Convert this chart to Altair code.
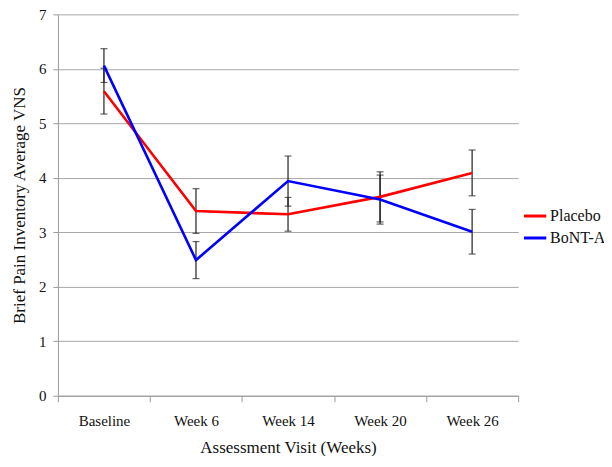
import altair as alt
import pandas as pd

visits = ["Baseline", "Week 6", "Week 14", "Week 20", "Week 26"]
placebo_mean = [5.59, 3.39, 3.33, 3.65, 4.09]
placebo_err = [0.42, 0.41, 0.31, 0.46, 0.42]
bont_mean = [6.06, 2.49, 3.94, 3.60, 3.01]
bont_err = [0.31, 0.34, 0.46, 0.45, 0.41]
groups = ["Placebo", "BoNT-A"]
colors = ["#FF0000", "#0000FF"]

rows = []
for g, means, errs in [("Placebo", placebo_mean, placebo_err), ("BoNT-A", bont_mean, bont_err)]:
    for i, (v, m, e) in enumerate(zip(visits, means, errs)):
        rows.append({"visit": v, "idx": i, "group": g, "mean": m, "lo": m - e, "hi": m + e})
df = pd.DataFrame(rows)

FONT = "Times New Roman, Liberation Serif, serif"

x_enc = alt.X(
    "visit:N",
    sort=visits,
    bandPosition=0.5,
    scale=alt.Scale(type="band", domain=visits, paddingInner=0, paddingOuter=0),
    axis=alt.Axis(
        title="Assessment Visit (Weeks)",
        labelAngle=0,
        tickBand="extent",
        tickSize=6,
        labelPadding=12,
        titlePadding=11,
        grid=False,
        labelFont=FONT,
        titleFont=FONT,
    ),
)
y_scale = alt.Scale(domain=[0, 7], nice=False, zero=True)

base = alt.Chart(df)

rules = base.mark_rule(color="#222222", strokeWidth=1.2).encode(
    x=x_enc,
    y=alt.Y("lo:Q", scale=y_scale),
    y2="hi:Q",
)
caps_hi = base.mark_tick(color="#222222", thickness=1.2, size=7, orient="horizontal").encode(
    x=x_enc, y=alt.Y("hi:Q", scale=y_scale)
)
caps_lo = base.mark_tick(color="#222222", thickness=1.2, size=7, orient="horizontal").encode(
    x=x_enc, y=alt.Y("lo:Q", scale=y_scale)
)

lines = base.mark_line(strokeWidth=2.6).encode(
    x=x_enc,
    y=alt.Y(
        "mean:Q",
        scale=y_scale,
        axis=alt.Axis(
            title="Brief Pain Inventory Average VNS",
            values=[0, 1, 2, 3, 4, 5, 6, 7],
            format="d",
            tickSize=5,
            labelPadding=7,
            titlePadding=10,
            grid=True,
            labelFont=FONT,
            titleFont=FONT,
        ),
    ),
    color=alt.Color(
        "group:N",
        scale=alt.Scale(domain=groups, range=colors),
        legend=alt.Legend(
            title=None,
            orient="none",
            legendX=465,
            legendY=189,
            symbolType="stroke",
            symbolSize=500,
            symbolStrokeWidth=3,
            labelFont=FONT,
            labelFontSize=16,
            labelColor="#111111",
            rowPadding=1,
            labelOffset=2,
        ),
    ),
    order=alt.Order("idx:Q"),
)

chart = (
    alt.layer(rules, caps_hi, caps_lo, lines)
    .properties(
        width=461,
        height=382,
        autosize=alt.AutoSizeParams(type="none"),
        padding={"left": 50, "top": 6, "right": 86, "bottom": 60},
    )
    .configure(font=FONT)
    .configure_view(stroke=None)
    .configure_axis(
        labelFont=FONT,
        titleFont=FONT,
        labelFontSize=15,
        titleFontSize=17,
        titleFontWeight="normal",
        labelColor="#111111",
        titleColor="#111111",
        domainColor="#9a9a9a",
        tickColor="#9a9a9a",
        gridColor="#a8a8a8",
        gridWidth=1,
    )
    .configure_legend(labelFont=FONT)
)

chart.save("out.html", embed_options={"renderer": "svg", "actions": False})
